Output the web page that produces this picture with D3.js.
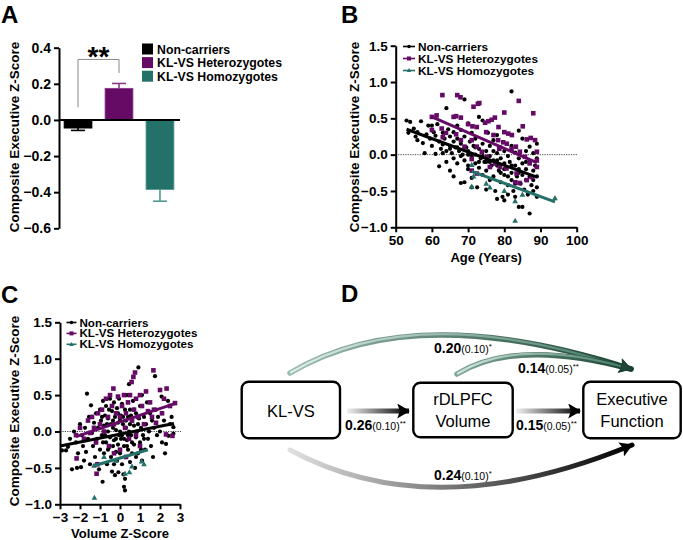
<!DOCTYPE html>
<html><head><meta charset="utf-8">
<script src="https://cdn.jsdelivr.net/npm/d3@7"></script>
<style>
body{margin:0;background:#fff}
svg{display:block}
text{font-family:"Liberation Sans",Arial,Helvetica,sans-serif;}
</style>
</head><body><svg id="chart" width="683" height="540"></svg>
<script>
// ---------------- DATA ----------------
const groups = ["Non-carriers", "KL-VS Heterozygotes", "KL-VS Homozygotes"];
const groupColors = ["#000000", "#650b66", "#24716a"];
const errColors = ["#000000", "#8a3a8c", "#4f9790"];

// Panel A
const barMeans = [-0.045, 0.175, -0.385];
const barErrors = [0.013, 0.027, 0.065];
const aTicks = [0.4, 0.2, 0.0, -0.2, -0.4, -0.6];

// Panel B: [age, score]
const bTicksX = [50, 60, 70, 80, 90, 100];
const bTicksY = [-1.0, -0.5, 0.0, 0.5, 1.0, 1.5];
const bNon = [[53,0.47],[54,0.45],[53.5,0.3],[55,0.36],[55.5,0.25],[56,0.31],[56,0.2],[57,0.46],[57.5,0.16],[58,0.02],[58.5,0.28],[59,0.4],[59.5,0.22],[60,0.4],[60,0.12],[60.5,0.31],[61,0.26],[61,0.01],[61.5,0.42],[62,-0.16],[62,0.18],[62.5,0.08],[63,0.3],[63,0.14],[63.5,0.22],[64,0.64],[64,0.05],[64.5,0.35],[65,-0.22],[65,0.12],[65,0.25],[65.5,0.02],[66,0.31],[66,0.18],[66,-0.05],[66.5,0.1],[67,0.22],[67,0.4],[67,-0.12],[67.5,0.05],[68,0.34],[68,-0.39],[68,0.15],[68.5,0.0],[69,0.76],[69,0.25],[69,-0.08],[69.5,0.1],[70,0.43],[70,0.05],[70,-0.2],[70,-0.15],[70.5,0.18],[71,0.3],[71,-0.02],[71,-0.32],[71.5,0.12],[72,0.0],[72,-0.12],[72,0.22],[72.5,-0.45],[73,0.52],[73,0.08],[73,-0.18],[73.5,-0.05],[74,0.47],[74,0.15],[74,-0.28],[74.5,-0.1],[75,0.05],[75,-0.48],[75,-0.22],[75.5,0.3],[76,-0.02],[76,-0.35],[76,0.12],[76.5,-0.15],[77,0.2],[77,-0.08],[77,-0.3],[77.5,-0.5],[78,0.27],[78,-0.61],[78,-0.15],[78,0.02],[78.5,-0.22],[79,-0.05],[79,-0.38],[79,0.1],[79.5,-0.58],[80,-0.12],[80,-0.63],[80,0.05],[80,-0.28],[80.5,-0.18],[81,-0.02],[81,-0.42],[81,-0.55],[81.5,-0.1],[82,0.87],[82,-0.25],[82,-0.35],[82,0.12],[82.5,-0.5],[83,-0.15],[83,0.03],[83,-0.58],[83.5,-0.3],[84,-0.72],[84,0.33],[84,-0.2],[84,-0.05],[84.5,-0.4],[85,-0.72],[85,-0.12],[85,0.22],[85,-0.28],[85.5,-0.48],[86,0.05],[86,-0.2],[86,-0.35],[86.5,-0.55],[87,-0.81],[87,0.11],[87,-0.1],[87,-0.3],[87.5,-0.42],[88,-0.22],[88,0.02],[88,-0.5],[88.5,-0.15],[89,0.15],[89,-0.45],[89,-0.58],[89,-0.3],[89,-0.05],[64,-0.1],[66,-0.3],[69,-0.38],[71,-0.45],[63,0.02],[65,0.08],[67,0.1],[68,-0.02],[70,0.0],[72,0.1],[74,-0.02],[76,-0.1],[78,-0.08],[80,-0.2],[82,-0.15],[84,-0.25],[86,-0.1],[88,-0.35],[73,-0.1],[75,-0.1],[77,0.05],[79,-0.25],[81,-0.3],[83,-0.4]];
const bHet = [[62.9,0.82],[67,0.82],[67.9,0.79],[71.5,0.66],[72.7,0.7],[73.1,0.71],[80,0.58],[84,0.74],[88,0.57],[60,0.52],[61.3,0.54],[66,0.52],[66.7,0.53],[68,0.51],[70,0.42],[71.2,0.39],[72.4,0.38],[74.7,0.44],[75.6,0.46],[76.5,0.48],[77.4,0.51],[78.4,0.38],[80,0.31],[81.1,0.29],[82.1,0.27],[75,0.31],[77,0.27],[78.3,0.2],[85.1,0.39],[86.2,0.21],[87.3,0.23],[88.5,0.2],[89,0.04],[89,-0.08],[89,-0.17],[87,-0.12],[85.7,-0.03],[84.3,0.04],[83.2,0.11],[82,0.08],[80.7,0.15],[79.7,0.17],[78.6,0.08],[83.4,-0.26],[83,-0.38],[84.2,-0.39],[87.6,-0.31],[86.2,-0.35],[62.7,0.36],[60,0.34],[63,0.24],[63.9,0.3],[66.7,0.28],[68,0.2],[69,0.11],[71,0.2],[72.4,0.11],[73.8,0.04],[75.2,-0.03],[71,-0.06],[71,-0.22],[72.4,-0.26],[76,-0.17],[77.4,-0.12],[78.8,-0.17],[80.6,-0.19]];
const bHom = [[71,-0.14],[71,-0.44],[71.5,-0.3],[75,-0.4],[76,-0.45],[80,-0.5],[83,-0.64],[83,-0.91],[85,-0.55],[94,-0.6]];
const bFits = [[[53,0.35],[89,-0.31]], [[60,0.52],[89,-0.11]], [[71,-0.23],[94,-0.65]]];

// Panel C: [volume z, score]
const cTicksX = [-3, -2, -1, 0, 1, 2, 3];
const cTicksY = [-1.0, -0.5, 0.0, 0.5, 1.0, 1.5];
const cNon = [[-2.9,-0.26],[-2.7,-0.26],[-2.6,-0.21],[-2.5,-0.1],[-2.4,-0.52],[-2.3,0.0],[-2.2,-0.15],[-2.15,-0.5],[-2.1,-0.3],[-2.0,0.1],[-1.95,-0.49],[-1.9,-0.05],[-1.85,-0.2],[-1.8,-0.4],[-1.75,0.05],[-1.7,-0.28],[-1.65,0.52],[-1.6,-0.1],[-1.55,0.2],[-1.5,-0.45],[-1.45,0.36],[-1.4,-0.02],[-1.35,-0.2],[-1.3,0.12],[-1.25,-0.35],[-1.2,0.25],[-1.15,-0.1],[-1.1,0.05],[-1.05,-0.52],[-1.0,0.3],[-1.0,-0.25],[-0.95,0.15],[-0.9,-0.05],[-0.87,-0.69],[-0.85,0.42],[-0.8,-0.3],[-0.8,0.08],[-0.75,0.22],[-0.7,-0.15],[-0.7,0.35],[-0.65,-0.45],[-0.6,0.0],[-0.6,0.18],[-0.55,-0.22],[-0.5,0.45],[-0.5,-0.08],[-0.45,0.1],[-0.45,-0.35],[-0.4,0.28],[-0.4,-0.55],[-0.35,0.05],[-0.3,-0.12],[-0.3,0.4],[-0.25,-0.6],[-0.25,0.2],[-0.2,-0.28],[-0.2,0.02],[-0.15,0.32],[-0.15,-0.4],[-0.1,0.12],[-0.1,-0.18],[-0.08,-0.56],[-0.05,0.45],[0,0.0],[0,-0.3],[0.05,0.22],[0.05,-0.1],[0.1,0.38],[0.1,-0.45],[0.15,0.1],[0.17,-0.59],[0.2,-0.76],[0.2,-0.2],[0.25,0.3],[0.25,-0.65],[0.25,-0.81],[0.3,0.05],[0.3,-0.35],[0.35,0.5],[0.35,-0.12],[0.4,0.2],[0.4,-0.25],[0.45,0.65],[0.45,0.0],[0.5,-0.42],[0.5,0.3],[0.55,-0.05],[0.6,0.15],[0.6,-0.3],[0.65,0.42],[0.7,-0.18],[0.7,0.08],[0.75,-0.5],[0.8,0.25],[0.8,-0.08],[0.85,0.0],[0.92,0.88],[0.9,-0.3],[0.95,0.18],[1.0,-0.15],[1.0,0.35],[1.05,0.05],[1.1,-0.4],[1.1,0.5],[1.15,-0.05],[1.2,0.2],[1.25,-0.25],[1.3,0.1],[1.35,0.4],[1.4,-0.1],[1.45,0.0],[1.5,0.25],[1.55,-0.2],[1.6,0.15],[1.65,-0.35],[1.75,0.76],[1.7,0.05],[1.8,0.3],[1.85,-0.05],[1.9,0.2],[2.0,0.0],[2.08,0.48],[2.1,-0.15],[2.2,0.15],[2.25,-0.3],[2.3,-0.17],[2.4,0.42],[2.42,-0.06],[2.5,0.1],[2.58,0.2],[2.67,-0.03],[2.67,0.06],[-0.9,0.2],[-0.6,-0.25],[-0.35,0.15],[-0.1,0.25],[0.1,-0.05],[0.3,0.15],[0.5,0.1],[0.7,0.3],[-0.55,0.3],[0.0,0.15],[0.2,-0.1],[0.4,-0.05],[-0.2,-0.1],[0.6,-0.15],[-0.75,-0.05],[0.9,0.1],[-1.2,-0.15],[-0.3,-0.45],[0.8,-0.35],[1.2,-0.1],[-0.65,0.1],[-0.35,-0.2],[0.15,0.2],[0.55,0.22],[-0.05,-0.05],[0.35,-0.2],[-0.85,-0.15],[1.05,-0.25]];
const cHet = [[-2.2,-0.05],[-2.17,-0.37],[-2.0,0.05],[-1.8,-0.1],[-1.6,0.15],[-1.5,-0.02],[-1.4,0.2],[-1.3,0.05],[-1.2,-0.15],[-1.17,-0.58],[-1.13,-0.45],[-1.1,0.25],[-1.0,0.1],[-0.9,0.3],[-0.8,0.0],[-0.7,0.45],[-0.6,0.2],[-0.55,-0.2],[-0.5,0.5],[-0.4,0.35],[-0.33,0.59],[-0.3,0.1],[-0.2,0.25],[-0.1,0.48],[0.0,0.2],[0.0,-0.25],[0.1,0.35],[0.2,0.5],[0.25,0.05],[0.3,0.25],[0.4,0.4],[0.45,-0.1],[0.5,0.5],[0.58,0.68],[0.6,0.15],[0.67,0.75],[0.7,0.3],[0.75,0.81],[0.8,0.45],[0.9,0.2],[1.0,0.5],[1.0,-0.2],[1.1,0.35],[1.2,0.1],[1.3,0.55],[1.4,0.28],[1.5,0.4],[1.6,0.2],[1.67,0.84],[1.7,0.3],[1.8,0.12],[2.0,0.57],[2.1,0.25],[2.2,0.45],[2.3,-0.04],[2.33,0.59],[2.5,0.35],[2.62,-0.06],[2.75,0.39],[0.3,-0.35],[-0.3,-0.3],[0.8,-0.05]];
const cHom = [[-1.28,-0.91],[-1.3,-0.47],[-0.8,-0.35],[-0.2,-0.4],[0.25,-0.58],[0.47,-0.56],[0.6,-0.48],[1.08,-0.41],[1.2,-0.45]];
const cFits = [[[-3,-0.2],[2.7,0.11]], [[-2.2,-0.07],[2.7,0.38]], [[-1.3,-0.47],[1.4,-0.25]]];

// Panel D
const dNodes = [["KL-VS"], ["rDLPFC", "Volume"], ["Executive", "Function"]];
const dPaths = [
  {coef: "0.26", se: "(0.10)", sig: "**"},
  {coef: "0.15", se: "(0.05)", sig: "**"},
  {coef: "0.20", se: "(0.10)", sig: "*"},
  {coef: "0.14", se: "(0.05)", sig: "**"},
  {coef: "0.24", se: "(0.10)", sig: "*"}
];

// ---------------- DRAW ----------------
const svg = d3.select("#chart");
const defs = svg.append("defs");
const FONT = '"Liberation Sans",Arial,Helvetica,sans-serif';

function panelLabel(t, x, y) {
  svg.append("text").attr("x", x).attr("y", y).attr("font-size", 24)
    .attr("font-weight", "bold").text(t);
}
function yTitle(x, cy) {
  svg.append("text").attr("transform", `translate(${x},${cy}) rotate(-90)`)
    .attr("text-anchor", "middle").attr("font-size", 13.5).attr("font-weight", "bold")
    .text("Composite Executive Z-Score");
}
function styleAxis(g, fs) {
  g.selectAll("path.domain").attr("stroke", "#000").attr("stroke-width", 2);
  g.selectAll(".tick line").attr("stroke", "#000").attr("stroke-width", 2);
  g.selectAll(".tick text").attr("font-family", FONT).attr("font-size", fs)
    .attr("font-weight", "bold").attr("fill", "#000");
}

// ----- Panel A -----
panelLabel("A", 1, 23);
const ay = d3.scaleLinear().domain([-0.6, 0.4]).range([228.3, 47.7]);
const ax = d3.scaleBand().domain(groups).range([60, 178]).paddingInner(0.32).paddingOuter(0.1);
const aAxis = svg.append("g").attr("transform", "translate(59,0)")
  .call(d3.axisLeft(ay).tickValues(aTicks).tickFormat(d3.format(".1f")).tickSize(5).tickSizeOuter(0));
styleAxis(aAxis, 14);
aAxis.selectAll(".tick text").attr("x", -8);
yTitle(19, 137);

groups.forEach((g, i) => {
  const v = barMeans[i], e = barErrors[i];
  const x0 = ax(g), w = ax.bandwidth(), cx = x0 + w / 2;
  const yEnd = v >= 0 ? ay(v + e) : ay(v - e);
  svg.append("line").attr("x1", cx).attr("x2", cx).attr("y1", ay(v)).attr("y2", yEnd)
    .attr("stroke", errColors[i]).attr("stroke-width", 1.6);
  svg.append("line").attr("x1", cx - 7).attr("x2", cx + 7).attr("y1", yEnd).attr("y2", yEnd)
    .attr("stroke", errColors[i]).attr("stroke-width", 1.6);
  svg.append("rect").attr("x", x0).attr("width", w)
    .attr("y", Math.min(ay(v), ay(0))).attr("height", Math.abs(ay(v) - ay(0)))
    .attr("fill", groupColors[i]).attr("stroke", errColors[i]).attr("stroke-width", 0.8);
});
svg.append("line").attr("x1", 59).attr("x2", 180).attr("y1", ay(0)).attr("y2", ay(0))
  .attr("stroke", "#000").attr("stroke-width", 2);
// significance bracket
{
  const c1 = ax(groups[0]) + ax.bandwidth() / 2, c2 = ax(groups[1]) + ax.bandwidth() / 2;
  svg.append("path").attr("d", `M${c1},${ay(0.07)}V${ay(0.335)}H${c2}V${ay(0.26)}`)
    .attr("fill", "none").attr("stroke", "#888").attr("stroke-width", 1);
  svg.append("text").attr("x", (c1 + c2) / 2).attr("y", 66).attr("text-anchor", "middle")
    .attr("font-size", 28).attr("font-weight", "bold").text("**");
}
// legend A
groups.forEach((g, i) => {
  const cy = 49 + i * 13.6;
  svg.append("rect").attr("x", 142).attr("y", cy - 5.5).attr("width", 11).attr("height", 11)
    .attr("fill", groupColors[i]);
  svg.append("text").attr("x", 157).attr("y", cy + 4.5).attr("font-size", 12.3)
    .attr("font-weight", "bold").text(g);
});

// ----- scatter helper -----
function drawMarker(sel, kind, x, y, color, s) {
  if (kind === 0) sel.append("circle").attr("cx", x).attr("cy", y).attr("r", s).attr("fill", color);
  else if (kind === 1) sel.append("rect").attr("x", x - s).attr("y", y - s).attr("width", 2 * s).attr("height", 2 * s).attr("fill", color);
  else sel.append("path").attr("d", `M${x},${y - s * 1.2}L${x + s * 1.1},${y + s * 0.8}L${x - s * 1.1},${y + s * 0.8}Z`).attr("fill", color);
}
function scatterPanel(opts) {
  const {x, y, xTicks, yTicks, sets, fits, legend, xTitle, xTitleY, tickFs} = opts;
  const xr = x.range(), yr = y.range();
  svg.append("line").attr("x1", xr[0]).attr("x2", xr[1] + 1).attr("y1", y(0)).attr("y2", y(0))
    .attr("stroke", "#444").attr("stroke-width", 1).attr("stroke-dasharray", "1.2,1.2");
  const g = svg.append("g");
  const sizes = [2.1, 2.3, 2.6];
  sets.forEach((pts, k) => {
    pts.forEach(p => drawMarker(g, k, x(p[0]), y(p[1]), groupColors[k], sizes[k]));
  });
  fits.forEach((f, k) => {
    svg.append("line").attr("x1", x(f[0][0])).attr("y1", y(f[0][1]))
      .attr("x2", x(f[1][0])).attr("y2", y(f[1][1]))
      .attr("stroke", groupColors[k]).attr("stroke-width", 3);
  });
  const gx = svg.append("g").attr("transform", `translate(0,${yr[0]})`)
    .call(d3.axisBottom(x).tickValues(xTicks).tickFormat(d3.format("d")).tickSize(5).tickSizeOuter(0));
  styleAxis(gx, tickFs);
  gx.selectAll(".tick text").attr("y", 8);
  const gy = svg.append("g").attr("transform", `translate(${xr[0]},0)`)
    .call(d3.axisLeft(y).tickValues(yTicks).tickFormat(d3.format(".1f")).tickSize(5).tickSizeOuter(0));
  styleAxis(gy, tickFs);
  gy.selectAll(".tick text").attr("x", -8);
  svg.append("text").attr("x", (xr[0] + xr[1]) / 2).attr("y", xTitleY).attr("text-anchor", "middle")
    .attr("font-size", 13).attr("font-weight", "bold").text(xTitle);
  groups.forEach((gname, k) => {
    const cy = legend.y0 + k * legend.dy;
    svg.append("line").attr("x1", legend.x0).attr("x2", legend.x0 + legend.w).attr("y1", cy).attr("y2", cy)
      .attr("stroke", groupColors[k]).attr("stroke-width", 1.6);
    drawMarker(svg, k, legend.x0 + legend.w / 2, cy, groupColors[k], k === 0 ? 1.8 : 2);
    svg.append("text").attr("x", legend.x0 + legend.w + 3).attr("y", cy + legend.fs * 0.35)
      .attr("font-size", legend.fs).attr("font-weight", "bold").text(gname);
  });
}

// ----- Panel B -----
panelLabel("B", 341, 23);
scatterPanel({
  x: d3.scaleLinear().domain([50, 100]).range([395.7, 576.7]),
  y: d3.scaleLinear().domain([-1, 1.5]).range([227.3, 45.7]),
  xTicks: bTicksX, yTicks: bTicksY, sets: [bNon, bHet, bHom], fits: bFits,
  legend: {x0: 403, y0: 46.5, dy: 12, w: 12, fs: 11.8},
  xTitle: "Age (Years)", xTitleY: 262, tickFs: 13.5
});
yTitle(359, 137);

// ----- Panel C -----
panelLabel("C", 1, 303);
scatterPanel({
  x: d3.scaleLinear().domain([-3, 3]).range([60, 180]),
  y: d3.scaleLinear().domain([-1, 1.5]).range([504.3, 322.3]),
  xTicks: cTicksX, yTicks: cTicksY, sets: [cNon, cHet, cHom], fits: cFits,
  legend: {x0: 66.5, y0: 322.5, dy: 10.9, w: 10, fs: 11.6},
  xTitle: "Volume Z-Score", xTitleY: 538, tickFs: 13.5
});
yTitle(19, 411);

// ----- Panel D -----
panelLabel("D", 341, 302);
function grad(id, x1, x2, c1, c2) {
  const g = defs.append("linearGradient").attr("id", id).attr("gradientUnits", "userSpaceOnUse")
    .attr("x1", x1).attr("x2", x2).attr("y1", 0).attr("y2", 0);
  g.append("stop").attr("offset", 0).attr("stop-color", c1);
  g.append("stop").attr("offset", 1).attr("stop-color", c2);
}
function marker(id, color) {
  defs.append("marker").attr("id", id).attr("markerUnits", "userSpaceOnUse")
    .attr("viewBox", "0 0 12 14").attr("refX", 11).attr("refY", 7)
    .attr("markerWidth", 13).attr("markerHeight", 15).attr("orient", "auto")
    .append("path").attr("d", "M0,0L12,7L0,14L2.5,7Z").attr("fill", color);
}
marker("mBlack", "#000");
marker("mGreen", "#1c4537");
grad("gS1", 347, 408, "#f0f0f0", "#000");
grad("gS2", 516, 580, "#f0f0f0", "#000");
grad("gTL", 290, 632, "#9bbdb1", "#17402f");
grad("gTLi", 290, 632, "#e2efe9", "#3d7460");
grad("gTS", 457, 632, "#7fa899", "#17402f");
grad("gTSi", 457, 632, "#d6e8e0", "#3d7460");
grad("gB", 290, 632, "#e0e0e0", "#000");

const boxes = [
  {x: 241.7, y: 381.7, w: 98.3, h: 56.6},
  {x: 413.3, y: 382.7, w: 99.4, h: 54.6},
  {x: 583.3, y: 381.7, w: 97.4, h: 56.6}
];
boxes.forEach((b, i) => {
  svg.append("rect").attr("x", b.x).attr("y", b.y).attr("width", b.w).attr("height", b.h)
    .attr("rx", 7).attr("fill", "#fff").attr("stroke", "#000").attr("stroke-width", 2.4);
  const lines = dNodes[i];
  const cx = b.x + b.w / 2;
  const baseY = lines.length === 1 ? 417 : 405;
  lines.forEach((t, j) => {
    svg.append("text").attr("x", cx).attr("y", baseY + j * 22).attr("text-anchor", "middle")
      .attr("font-family", '"Open Sans","Noto Sans",sans-serif').attr("font-size", 16.5).text(t);
  });
});

svg.append("line").attr("x1", 347).attr("x2", 409).attr("y1", 411).attr("y2", 411)
  .attr("stroke", "url(#gS1)").attr("stroke-width", 5).attr("marker-end", "url(#mBlack)");
svg.append("line").attr("x1", 516).attr("x2", 580).attr("y1", 411).attr("y2", 411)
  .attr("stroke", "url(#gS2)").attr("stroke-width", 5).attr("marker-end", "url(#mBlack)");
const topLong = "M290,373 Q414,299 631,369";
const topShort = "M457,374 Q516,338 631,369";
const bottom = "M290,450 Q433,527 632,445";
svg.append("path").attr("d", topLong).attr("fill", "none").attr("stroke", "url(#gTL)").attr("stroke-width", 5.5)
  .attr("stroke-linecap", "round").attr("marker-end", "url(#mGreen)");
svg.append("path").attr("d", "M291,372.4 Q414,299 620,366").attr("fill", "none").attr("stroke", "url(#gTLi)").attr("stroke-width", 2.2)
  .attr("stroke-linecap", "round");
svg.append("path").attr("d", topShort).attr("fill", "none").attr("stroke", "url(#gTS)").attr("stroke-width", 5.5)
  .attr("stroke-linecap", "round").attr("marker-end", "url(#mGreen)");
svg.append("path").attr("d", "M458,373.4 Q516,338 620,366").attr("fill", "none").attr("stroke", "url(#gTSi)").attr("stroke-width", 2.2)
  .attr("stroke-linecap", "round");
svg.append("path").attr("d", bottom).attr("fill", "none").attr("stroke", "url(#gB)").attr("stroke-width", 5)
  .attr("stroke-linecap", "round").attr("marker-end", "url(#mBlack)");

const labelPos = [[345, 430], [516, 430], [434, 353], [518, 373], [434, 480]];
dPaths.forEach((p, i) => {
  const t = svg.append("text").attr("x", labelPos[i][0]).attr("y", labelPos[i][1]);
  t.append("tspan").attr("font-size", 14).attr("font-weight", "bold").text(p.coef);
  t.append("tspan").attr("font-size", 10.5).text(p.se);
  t.append("tspan").attr("font-size", 8).attr("dy", -4).text(p.sig);
});
</script>
</body></html>
